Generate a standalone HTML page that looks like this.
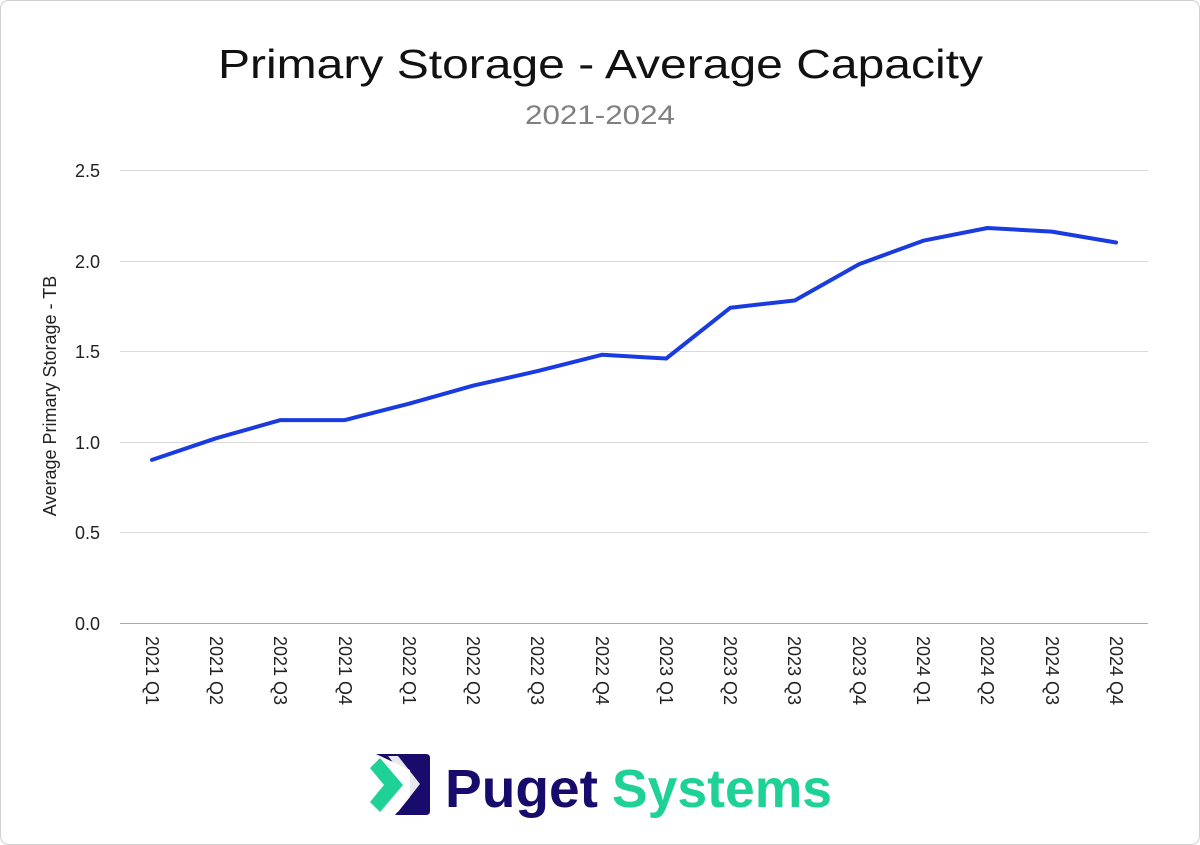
<!DOCTYPE html>
<html><head><meta charset="utf-8"><style>
html,body{margin:0;padding:0;background:#fff;}
svg{display:block;font-family:"Liberation Sans",sans-serif;}
</style></head><body>
<svg width="1200" height="845" viewBox="0 0 1200 845">
<rect x="0.5" y="0.5" width="1199" height="844" rx="8" fill="#fff" stroke="#d0d0d0"/>
<text x="218" y="78" font-size="41" fill="#111" textLength="765" lengthAdjust="spacingAndGlyphs">Primary Storage - Average Capacity</text>
<text x="525" y="124" font-size="27" fill="#808080" textLength="150" lengthAdjust="spacingAndGlyphs">2021-2024</text>
<g stroke="#d9d9d9" stroke-width="1">
<line x1="120" x2="1148" y1="170.5" y2="170.5"/>
<line x1="120" x2="1148" y1="261.5" y2="261.5"/>
<line x1="120" x2="1148" y1="351.5" y2="351.5"/>
<line x1="120" x2="1148" y1="442.5" y2="442.5"/>
<line x1="120" x2="1148" y1="532.5" y2="532.5"/>
</g>
<line x1="120" x2="1148" y1="623.5" y2="623.5" stroke="#aaa"/>
<g font-size="18" fill="#222" text-anchor="end">
<text x="100" y="177">2.5</text><text x="100" y="268">2.0</text><text x="100" y="358">1.5</text>
<text x="100" y="449">1.0</text><text x="100" y="539">0.5</text><text x="100" y="630">0.0</text>
</g>
<text transform="translate(56,396) rotate(-90)" text-anchor="middle" font-size="18" fill="#222">Average Primary Storage - TB</text>
<g font-size="18" fill="#222">
<text transform="translate(146,636) rotate(90)">2021 Q1</text>
<text transform="translate(210,636) rotate(90)">2021 Q2</text>
<text transform="translate(274,636) rotate(90)">2021 Q3</text>
<text transform="translate(339,636) rotate(90)">2021 Q4</text>
<text transform="translate(403,636) rotate(90)">2022 Q1</text>
<text transform="translate(467,636) rotate(90)">2022 Q2</text>
<text transform="translate(531,636) rotate(90)">2022 Q3</text>
<text transform="translate(596,636) rotate(90)">2022 Q4</text>
<text transform="translate(660,636) rotate(90)">2023 Q1</text>
<text transform="translate(724,636) rotate(90)">2023 Q2</text>
<text transform="translate(788,636) rotate(90)">2023 Q3</text>
<text transform="translate(853,636) rotate(90)">2023 Q4</text>
<text transform="translate(917,636) rotate(90)">2024 Q1</text>
<text transform="translate(981,636) rotate(90)">2024 Q2</text>
<text transform="translate(1046,636) rotate(90)">2024 Q3</text>
<text transform="translate(1110,636) rotate(90)">2024 Q4</text>
</g>
<polyline fill="none" stroke="#1a3be0" stroke-width="4" stroke-linejoin="round" stroke-linecap="round"
points="152,459.9 216.3,438.2 280.5,420.1 344.8,420.1 409.1,403.7 473.4,385.6 537.6,371.1 601.9,354.8 666.2,358.5 730.4,307.7 794.7,300.5 859,264.2 923.2,240.7 987.5,228 1051.8,231.6 1116,242.5"/>
<g>
<path d="M376,754 L426,754 Q430,754 430,758 L430,811 Q430,815 426,815 L395,815 L410,797 L410,770 Z" fill="#170c6b"/>
<path d="M370,768 L380,758 L403,785 L380,812 L370,802 L384,785 Z" fill="#1ed196"/>
<path d="M388,756 L398,756 L420,784 L398,812 L388,812 L410,784 Z" fill="#fff" opacity="0.9"/>
<text x="445" y="807" font-size="54" font-weight="bold" fill="#170c6b" textLength="153" lengthAdjust="spacingAndGlyphs">Puget</text>
<text x="612" y="807" font-size="54" font-weight="bold" fill="#1ed196" textLength="220" lengthAdjust="spacingAndGlyphs">Systems</text>
</g>
</svg>
</body></html>
